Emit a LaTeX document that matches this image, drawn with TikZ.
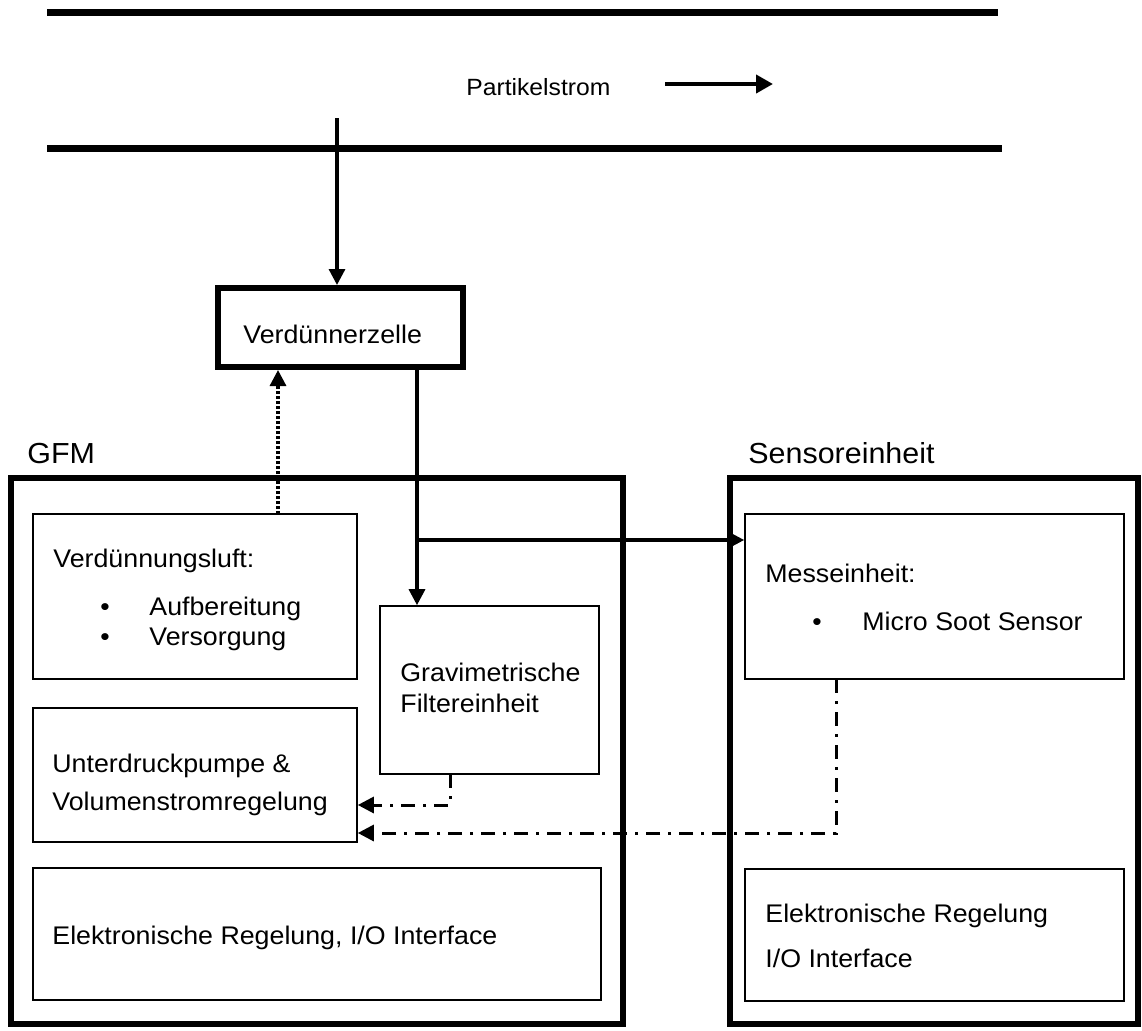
\documentclass[tikz,border=0pt]{standalone}
\usepackage{fontspec}
\setmainfont{Liberation Sans}[FakeStretch=1.05]
\usetikzlibrary{arrows.meta,fit}
\tikzset{
	frame/.style={draw, line width=3pt, inner sep=0pt},
	unit/.style={draw, line width=0.8pt, inner sep=0pt},
	txt/.style={anchor=base west, inner sep=0pt, font=\fontsize{12.75}{15}\selectfont},
	head/.style={anchor=base west, inner sep=0pt, font=\fontsize{14.5}{17}\selectfont},
	flow/.style={line width=1.6pt, -{Triangle[length=8pt,width=8pt]}},
	air/.style={line width=1.6pt, dash pattern=on 1.5pt off 1pt, -{Triangle[length=8pt,width=8pt]}},
	signal/.style={line width=1.5pt, dash pattern=on 7pt off 4pt on 1.5pt off 4pt, -{Triangle[length=8pt,width=8pt]}},
}

\begin{document}
\begin{tikzpicture}[x=0.5pt, y=-0.5pt]
			%%%%% START %%%%%
			\useasboundingbox (0, 0) rectangle (1142, 1030);
			
			% Rohr
			\draw[line width=3.5pt] (47, 12) -- (998, 12);
			\draw[line width=3.5pt] (47, 148) -- (1002, 148);
			\node[txt, font=\fontsize{11.75}{14}\selectfont] (strom) at (466, 95) {Partikelstrom};
			\coordinate (stromA) at (665, 84);
			\coordinate (stromB) at (773, 84);
			\draw[line width=2pt, -{Triangle[length=8.5pt,width=9pt]}] (stromA) -- (stromB);
			
			% Verduennerzelle
			\node[frame, fit={(218, 288) (463, 367)}] (zelle) {};
			\node[txt] (zelletxt) at (243, 343) {Verdünnerzelle};
			\coordinate (inlet) at (337, 118);
			\draw[flow] (inlet) -- (inlet |- zelle.north);
			
			% GFM
			\node[head] (gfmtxt) at (27, 463) {GFM};
			\node[frame, fit={(11, 478) (623, 1024)}] (gfm) {};
			
			\node[unit, fit={(33, 514) (357, 679)}] (luft) {};
			\node[txt] (lufttxt) at (53, 567) {Verdünnungsluft:};
			\node[txt] (bulA) at (100, 615) {\textbullet};
			\node[txt] (aufb) at (149, 615) {Aufbereitung};
			\node[txt] (bulB) at (100, 645) {\textbullet};
			\node[txt] (vers) at (149, 645) {Versorgung};
			
			\node[unit, fit={(380, 606) (599, 774)}] (grav) {};
			\node[txt] (gravA) at (400, 681) {Gravimetrische};
			\node[txt] (gravB) at (400, 712) {Filtereinheit};
			
			\node[unit, fit={(33, 708) (357, 842)}] (pumpe) {};
			\node[txt] (pumpeA) at (52, 772) {Unterdruckpumpe \&};
			\node[txt] (pumpeB) at (52, 810) {Volumenstromregelung};
			
			\node[unit, fit={(33, 868) (601, 1000)}] (elgfm) {};
			\node[txt] (elgfmtxt) at (52, 944) {Elektronische Regelung, I/O Interface};
			
			% Sensoreinheit
			\node[head] (senstxt) at (748, 463) {Sensoreinheit};
			\node[frame, fit={(730, 478) (1138, 1024)}] (sens) {};
			
			\node[unit, fit={(745, 514) (1124, 679)}] (mess) {};
			\node[txt] (messtxt) at (765, 582) {Messeinheit:};
			\node[txt] (bulC) at (812, 630) {\textbullet};
			\node[txt] (mss) at (862, 630) {Micro Soot Sensor};
			
			\node[unit, fit={(745, 869) (1124, 1001)}] (elsens) {};
			\node[txt] (elsensA) at (765, 922) {Elektronische Regelung};
			\node[txt] (elsensB) at (765, 967) {I/O Interface};
			
			% Verbindungen
			\coordinate (airout) at (278, 514);
			\draw[air] (airout) -- (airout |- zelle.south);
			
			\coordinate (zout) at (417, 367);
			\coordinate (split) at (417, 540);
			\draw[line width=1.6pt] (zout) -- (split);
			\draw[flow] (split) -- (split |- grav.north);
			\draw[flow] (split) -- (split -| mess.west);
			
			\coordinate (gravout) at (450, 774);
			\draw[signal] (gravout) |- ([yshift=-15pt]pumpe.east);
			\coordinate (messout) at (836, 679);
			\draw[signal] (messout) |- ([yshift=-29pt]pumpe.east);
			
			%%%%% END %%%%%
\end{tikzpicture}
\end{document}
